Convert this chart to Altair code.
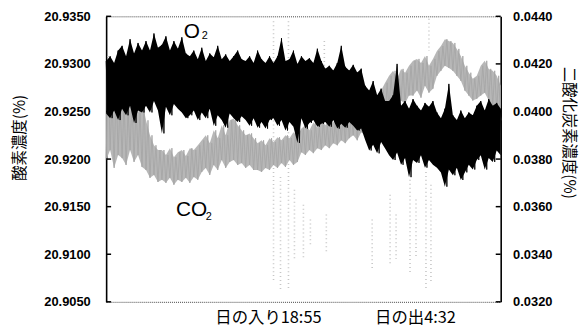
import altair as alt
import pandas as pd

# ---- O2 (%) : upper / lower noise extremes per sample (left axis) ----
o2_hi = [20.9303, 20.9308, 20.9301, 20.9314,
         20.9319, 20.9308, 20.9326, 20.9311, 20.9322, 20.9314,
         20.9324, 20.9314, 20.9332, 20.9317, 20.9320, 20.9329, 20.9314, 20.9324, 20.9316, 20.9328, 20.9311,
         20.9308, 20.9314, 20.9305, 20.9317, 20.9303, 20.9311, 20.9307, 20.9319, 20.9305, 20.9310, 20.9303, 20.9308, 20.9314, 20.9305,
         20.9303, 20.9308, 20.9301, 20.9314, 20.9305, 20.9301, 20.9308,
         20.9301, 20.9308, 20.9327, 20.9303, 20.9305, 20.9314, 20.9300, 20.9308, 20.9303, 20.9306, 20.9301, 20.9316, 20.9303,
         20.9295, 20.9298, 20.9293, 20.9301, 20.9319, 20.9297, 20.9293, 20.9299, 20.9291, 20.9295,
         20.9277, 20.9272, 20.9282, 20.9267, 20.9274, 20.9261,
         20.9261, 20.9267, 20.9300, 20.9256, 20.9261, 20.9253, 20.9263, 20.9256, 20.9251, 20.9259, 20.9255, 20.9261,
         20.9249, 20.9243, 20.9253, 20.9279, 20.9246, 20.9241, 20.9251, 20.9243, 20.9249, 20.9246,
         20.9256, 20.9261, 20.9251, 20.9263, 20.9256, 20.9259, 20.9253]
o2_lo = [20.9248, 20.9243, 20.9251, 20.9241,
         20.9253, 20.9246, 20.9256, 20.9238, 20.9251, 20.9249,
         20.9256, 20.9249, 20.9261, 20.9251, 20.9227, 20.9255, 20.9246, 20.9258, 20.9253, 20.9249, 20.9243,
         20.9246, 20.9251, 20.9241, 20.9249, 20.9243, 20.9253, 20.9235, 20.9246, 20.9241, 20.9233, 20.9248, 20.9243, 20.9239, 20.9245,
         20.9241, 20.9235, 20.9243, 20.9233, 20.9239, 20.9232, 20.9241,
         20.9243, 20.9235, 20.9241, 20.9230, 20.9239, 20.9234, 20.9217, 20.9243, 20.9232, 20.9238, 20.9241, 20.9234, 20.9237,
         20.9239, 20.9234, 20.9241, 20.9232, 20.9237, 20.9233, 20.9239, 20.9235, 20.9230, 20.9232,
         20.9220, 20.9209, 20.9215, 20.9206, 20.9218, 20.9211,
         20.9204, 20.9199, 20.9207, 20.9194, 20.9201, 20.9181, 20.9199, 20.9196, 20.9204, 20.9191, 20.9199, 20.9194,
         20.9191, 20.9186, 20.9171, 20.9189, 20.9183, 20.9191, 20.9178, 20.9186, 20.9194, 20.9189,
         20.9199, 20.9204, 20.9189, 20.9201, 20.9197, 20.9209, 20.9204]

# ---- CO2 (%) : upper / lower noise extremes per sample (right axis) ----
co2_hi = [0.04192, 0.04067, 0.04108, 0.04046,
          0.04046, 0.04004, 0.04058, 0.04025, 0.03996, 0.04046,
          0.03963, 0.03900, 0.03858, 0.03838,
          0.03838, 0.03817, 0.03846, 0.03808, 0.03829, 0.03838, 0.03813, 0.03846, 0.03838, 0.03858,
          0.03879, 0.03900, 0.03867, 0.03921, 0.03888, 0.03942, 0.03900, 0.03963,
          0.03971, 0.03942, 0.03921, 0.03900, 0.03908, 0.03888,
          0.03867, 0.03879, 0.03858, 0.03888, 0.03871, 0.03892, 0.03879, 0.03900, 0.03888, 0.03913, 0.03896,
          0.03929, 0.03942, 0.03921, 0.03954, 0.03933, 0.03963, 0.03942, 0.03971, 0.03954, 0.03983,
          0.03996, 0.04013, 0.03983, 0.04025, 0.04004, 0.04038, 0.04013, 0.04046, 0.04025, 0.04054,
          0.04088, 0.04121, 0.04150, 0.04171, 0.04138, 0.04179, 0.04163, 0.04192,
          0.04213, 0.04221, 0.04204, 0.04233, 0.04192, 0.04221,
          0.04254, 0.04275, 0.04304, 0.04296, 0.04288, 0.04263, 0.04233,
          0.04192, 0.04163, 0.04138, 0.04150,
          0.04192, 0.04213, 0.04179, 0.04171, 0.04150, 0.04108]
co2_lo = [0.03796, 0.03838, 0.03763, 0.03817,
          0.03804, 0.03775, 0.03838, 0.03788, 0.03817, 0.03767,
          0.03754, 0.03721, 0.03733, 0.03704,
          0.03713, 0.03700, 0.03721, 0.03692, 0.03713, 0.03704, 0.03721, 0.03700, 0.03725, 0.03713,
          0.03746, 0.03763, 0.03733, 0.03775, 0.03754, 0.03796, 0.03763, 0.03788,
          0.03796, 0.03775, 0.03783, 0.03763, 0.03775, 0.03754,
          0.03754, 0.03746, 0.03763, 0.03754, 0.03775, 0.03763, 0.03783, 0.03767, 0.03796, 0.03775, 0.03788,
          0.03829, 0.03817, 0.03838, 0.03825, 0.03846, 0.03838, 0.03858, 0.03846, 0.03867, 0.03858,
          0.03879, 0.03867, 0.03888, 0.03900, 0.03879, 0.03913, 0.03900, 0.03929, 0.03913, 0.03942,
          0.03942, 0.03971, 0.04004, 0.04025, 0.03996, 0.04046, 0.04033, 0.04067,
          0.04067, 0.04088, 0.04058, 0.04108, 0.04079, 0.04096,
          0.04150, 0.04171, 0.04192, 0.04183, 0.04171, 0.04150, 0.04129,
          0.04088, 0.04067, 0.04046, 0.04054,
          0.04067, 0.04079, 0.04046, 0.04025, 0.04004, 0.03963]

# ---- faint scattered CO2 readings (dotted streaks) ----
streak_t = [0.5, 42.0, 43.75, 45.75, 47.25, 49.5, 51.25, 54.75, 55.25, 66.75, 71.25, 72.75, 76.25, 77.75, 80.25, 81.5, 81.0]
streak_top = [0.04233, 0.04379, 0.03725, 0.04379, 0.03671, 0.03608, 0.03546, 0.04296, 0.03567, 0.03546, 0.03650, 0.03567, 0.03713, 0.03630, 0.03746, 0.03692, 0.04390]
streak_bottom = [0.04067, 0.03283, 0.03250, 0.03254, 0.03380, 0.03379, 0.03442, 0.04046, 0.03400, 0.03338, 0.03358, 0.03380, 0.03317, 0.03380, 0.03254, 0.03280, 0.04254]

# ---- axes ----
o2_ticks = [20.9050, 20.9100, 20.9150, 20.9200, 20.9250, 20.9300, 20.9350]
co2_ticks = [0.0320, 0.0340, 0.0360, 0.0380, 0.0400, 0.0420, 0.0440]
time_tick_pos = [40.6, 77.5]
time_tick_labels = ["日の入り18:55", "日の出4:32"]

# ---- series labels ----
label_text = ["O", "CO"]
label_t = [19.5, 17.5]
label_v = [20.9327, 20.9140]
sub_text = ["2", "2"]
sub_t = [24.0, 25.0]
sub_v = [20.9326, 20.9136]

W, H = 398, 288

o2_df = pd.DataFrame({"t": list(range(len(o2_hi))), "hi": o2_hi, "lo": o2_lo})
co2_df = pd.DataFrame({"t": list(range(len(co2_hi))), "hi": co2_hi, "lo": co2_lo})

# zig-zag traces through the same extremes (hi at t, lo half a step later)
o2_zz = pd.DataFrame(
    [{"t": i, "v": h} for i, h in enumerate(o2_hi)]
    + [{"t": i + 0.5, "v": l} for i, l in enumerate(o2_lo[:-1])]
).sort_values("t")
co2_zz = pd.DataFrame(
    [{"t": i, "v": l} for i, l in enumerate(co2_lo)]
    + [{"t": i + 0.5, "v": h} for i, h in enumerate(co2_hi[:-1])]
).sort_values("t")

streak_df = pd.DataFrame({"t": streak_t, "top": streak_top, "bottom": streak_bottom})
lab_df = pd.DataFrame({"t": label_t, "v": label_v, "txt": label_text})
sub_df = pd.DataFrame({"t": sub_t, "v": sub_v, "txt": sub_text})

x_scale = alt.Scale(domain=[0, 99], nice=False, zero=False)
o2_scale = alt.Scale(domain=[20.905, 20.935], nice=False, zero=False)
co2_scale = alt.Scale(domain=[0.032, 0.044], nice=False, zero=False)

mid = (time_tick_pos[0] + time_tick_pos[1]) / 2
label_expr = f"datum.value < {mid} ? '{time_tick_labels[0]}' : '{time_tick_labels[1]}'"

bottom_axis = alt.Axis(values=time_tick_pos, labelExpr=label_expr, ticks=False, tickSize=0,
                       domain=True, domainDash=[1, 1], domainColor="#444444", domainWidth=1,
                       labelFont="Noto Sans CJK JP", labelFontSize=16.5, labelColor="black",
                       labelPadding=8, labelOverlap=False, labelFlush=False, labelBound=False,
                       grid=False, title=None)
top_axis = alt.Axis(orient="top", labels=False, ticks=False, tickSize=0, domain=True,
                    domainDash=[1, 1], domainColor="#444444", domainWidth=1, grid=False, title=None)

left_axis = alt.Axis(orient="left", values=o2_ticks, format=".4f", ticks=False, tickSize=0,
                     labelPadding=16, labelFont="Liberation Sans", labelFontWeight="bold",
                     labelFontSize=13, labelColor="black", domainColor="black", domainWidth=1.6,
                     grid=False, title="酸素濃度(%)", titleFont="Noto Sans CJK JP",
                     titleFontSize=15.5, titleFontWeight="normal", titleColor="black",
                     titleAngle=270, titleAlign="center", titleBaseline="middle",
                     titleX=-87, titleY=122)
right_axis = alt.Axis(orient="right", values=co2_ticks, format=".4f", ticks=False, tickSize=0,
                      labelPadding=12, labelFont="Liberation Sans", labelFontWeight="bold",
                      labelFontSize=13, labelColor="black", domainColor="black", domainWidth=1.6,
                      grid=False, title="二酸化炭素濃度(%)", titleFont="Noto Sans CJK JP",
                      titleFontSize=15.5, titleFontWeight="normal", titleColor="black",
                      titleAngle=90, titleAlign="center", titleBaseline="middle",
                      titleX=68, titleY=117)

streaks = alt.Chart(streak_df).mark_rule(color="#c6c6c6", strokeWidth=1.6, strokeDash=[1, 3]).encode(
    x=alt.X("t:Q", scale=x_scale, axis=top_axis),
    y=alt.Y("top:Q", scale=co2_scale, axis=None),
    y2="bottom:Q",
)

co2_band = alt.Chart(co2_df).mark_area(color="#b3b3b3", opacity=0.95).encode(
    x=alt.X("t:Q", scale=x_scale, axis=None),
    y=alt.Y("hi:Q", scale=co2_scale, axis=right_axis),
    y2="lo:Q",
)
co2_trace = alt.Chart(co2_zz).mark_line(color="#a6a6a6", strokeWidth=0.9).encode(
    x=alt.X("t:Q", scale=x_scale, axis=None),
    y=alt.Y("v:Q", scale=co2_scale, axis=None),
)

o2_band = alt.Chart(o2_df).mark_area(color="black").encode(
    x=alt.X("t:Q", scale=x_scale, axis=bottom_axis),
    y=alt.Y("hi:Q", scale=o2_scale, axis=left_axis),
    y2="lo:Q",
)
o2_trace = alt.Chart(o2_zz).mark_line(color="black", strokeWidth=0.9).encode(
    x=alt.X("t:Q", scale=x_scale, axis=None),
    y=alt.Y("v:Q", scale=o2_scale, axis=None),
)

left_ticks = alt.Chart(pd.DataFrame({"v": o2_ticks})).mark_rule(color="black", strokeWidth=1.5).encode(
    y=alt.Y("v:Q", scale=o2_scale, axis=None),
    x=alt.value(0), x2=alt.value(5),
)
right_ticks = alt.Chart(pd.DataFrame({"v": co2_ticks})).mark_rule(color="black", strokeWidth=1.5).encode(
    y=alt.Y("v:Q", scale=co2_scale, axis=None),
    x=alt.value(W - 5), x2=alt.value(W),
)

labels = alt.Chart(lab_df).mark_text(font="Liberation Sans", fontSize=21, align="left",
                                     baseline="alphabetic", color="black").encode(
    x=alt.X("t:Q", scale=x_scale, axis=None),
    y=alt.Y("v:Q", scale=o2_scale, axis=None),
    text="txt:N",
)
subs = alt.Chart(sub_df).mark_text(font="Liberation Sans", fontSize=11, align="left",
                                   baseline="alphabetic", color="black").encode(
    x=alt.X("t:Q", scale=x_scale, axis=None),
    y=alt.Y("v:Q", scale=o2_scale, axis=None),
    text="txt:N",
)

chart = alt.layer(streaks, co2_band, co2_trace, o2_band, o2_trace, left_ticks, right_ticks,
                  labels, subs).resolve_scale(
    y="independent"
).resolve_axis(
    x="independent", y="independent"
).properties(
    width=W, height=H,
    autosize=alt.AutoSizeParams(type="none"),
    padding={"left": 99, "top": 7, "right": 80, "bottom": 24},
    background="white",
).configure_view(stroke=None)

chart.save("out.html", embed_options={"renderer": "svg", "actions": False})
